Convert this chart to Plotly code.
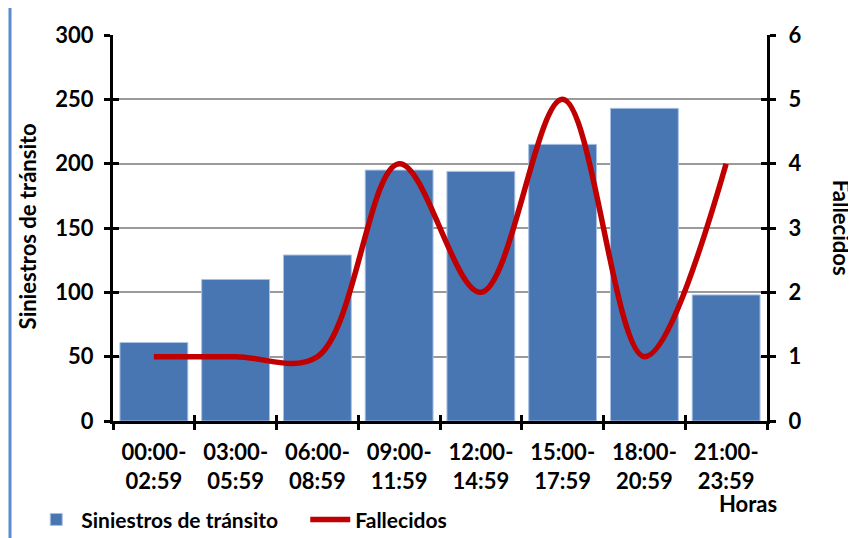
import plotly.graph_objects as go

categorias = ["00:00-<br>02:59", "03:00-<br>05:59", "06:00-<br>08:59", "09:00-<br>11:59",
              "12:00-<br>14:59", "15:00-<br>17:59", "18:00-<br>20:59", "21:00-<br>23:59"]
siniestros = [61, 110, 129, 195, 194, 215, 243, 98]
fallecidos = [1, 1, 1, 4, 2, 5, 1, 4]

FONT = dict(family="Lato", size=22, color="black", weight="bold")
BAR_COLOR = "#4776B3"
LINE_COLOR = "#C00000"

fig = go.Figure()
fig.add_trace(go.Bar(
    x=categorias, y=siniestros, name="Siniestros de tránsito",
    marker=dict(color=BAR_COLOR, line=dict(color="#A9C1E2", width=1)),
    width=0.83, yaxis="y"))
fig.add_trace(go.Scatter(
    x=categorias, y=fallecidos, name="Fallecidos", mode="lines",
    line=dict(color=LINE_COLOR, width=5.5, shape="spline", smoothing=1.0),
    yaxis="y2"))

axis_common = dict(showline=True, linecolor="black", linewidth=3,
                   tickcolor="black", tickwidth=3, ticklen=6, zeroline=False)

# The page places the figure 8px from the top-left corner of the window.
fig.update_layout(
    width=856, height=538,
    margin=dict(l=105, r=97, t=27, b=125, autoexpand=False),
    paper_bgcolor="white", plot_bgcolor="white",
    font=FONT,
    showlegend=True,
    legend=dict(orientation="h", x=-0.125, y=-0.256, xanchor="left", yanchor="middle",
                font=dict(family="Lato", size=21, color="black", weight="bold"),
                itemwidth=40, entrywidth=219, tracegroupgap=0,
                bgcolor="rgba(0,0,0,0)"),
    bargap=0.17,
    xaxis=dict(type="category", ticks="outside", tickson="boundaries",
               categoryorder="array", categoryarray=categorias,
               showgrid=False, tickfont=FONT, range=[-0.5, 7.5],
               ticklabelstandoff=10, automargin=False, **axis_common),
    xaxis2=dict(type="category", overlaying="x", side="bottom", ticks="inside",
                tickson="boundaries", categoryorder="array", categoryarray=categorias,
                showgrid=False, showticklabels=False, range=[-0.5, 7.5],
                automargin=False, **axis_common),
    yaxis=dict(range=[0, 300], dtick=50, ticks="outside", showgrid=True,
               gridcolor="#9A9A9A", gridwidth=1.5, tickfont=FONT,
               ticklabelstandoff=6, automargin=False, **axis_common),
    yaxis2=dict(range=[0, 6], dtick=1, overlaying="y", side="right",
                ticks="outside", showgrid=False, tickfont=FONT,
                ticklabelstandoff=8, automargin=False, **axis_common),
    yaxis3=dict(range=[0, 300], dtick=50, overlaying="y", side="left",
                ticks="inside", showgrid=False, showticklabels=False,
                automargin=False, **axis_common),
    yaxis4=dict(range=[0, 6], dtick=1, overlaying="y", side="right",
                ticks="inside", showgrid=False, showticklabels=False,
                automargin=False, **axis_common),
)

fig.add_annotation(text="Siniestros de tránsito", textangle=-90, xref="paper", yref="paper",
                   x=-0.131, y=0.505, xanchor="center", yanchor="middle", showarrow=False,
                   font=FONT)
fig.add_annotation(text="Fallecidos", textangle=90, xref="paper", yref="paper",
                   x=1.115, y=0.5, xanchor="center", yanchor="middle", showarrow=False,
                   font=FONT)
fig.add_annotation(text="Horas", xref="paper", yref="paper",
                   x=0.971, y=-0.214, xanchor="center", yanchor="middle", showarrow=False,
                   font=FONT)

fig.add_shape(type="line", xref="paper", yref="paper",
              x0=-0.1575, x1=-0.1575, y0=-0.33, y1=1.08,
              line=dict(color="#5B8BD0", width=3))

# invisible traces to activate the overlay axes (crossing tick marks)
fig.add_trace(go.Scatter(x=categorias, y=[0] * len(categorias), xaxis="x2", yaxis="y3",
                         mode="markers", marker=dict(opacity=0), showlegend=False,
                         hoverinfo="skip"))
fig.add_trace(go.Scatter(x=[categorias[0]], y=[0], yaxis="y4", mode="markers",
                         marker=dict(opacity=0), showlegend=False, hoverinfo="skip"))

fig.write_html("out.html")
